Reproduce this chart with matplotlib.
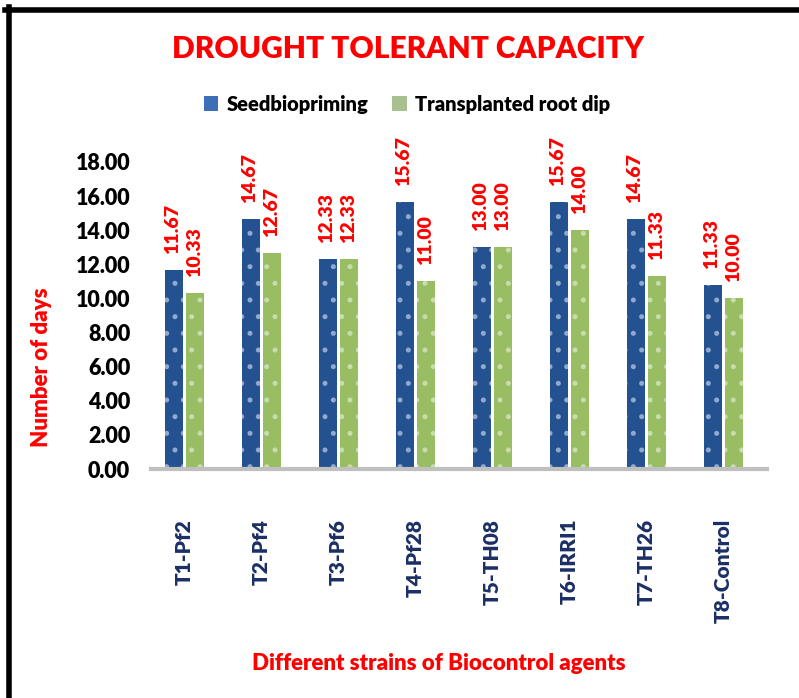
import matplotlib
matplotlib.use("Agg")
import matplotlib.pyplot as plt
from matplotlib.patches import Patch
from matplotlib.lines import Line2D
import numpy as np

categories = ["T1-Pf2", "T2-Pf4", "T3-Pf6", "T4-Pf28", "T5-TH08", "T6-IRRI1", "T7-TH26", "T8-Control"]
seed = [11.67, 14.67, 12.33, 15.67, 13.00, 15.67, 14.67, 10.80]
root = [10.33, 12.67, 12.33, 11.00, 13.00, 14.00, 11.33, 10.00]
seed_labels = ["11.67", "14.67", "12.33", "15.67", "13.00", "15.67", "14.67", "11.33"]
root_labels = ["10.33", "12.67", "12.33", "11.00", "13.00", "14.00", "11.33", "10.00"]
yticks = [0, 2, 4, 6, 8, 10, 12, 14, 16, 18]

plt.rcParams['font.family'] = ['Lato', 'DejaVu Sans']
plt.rcParams['hatch.linewidth'] = 1.2
W = "heavy"

fig = plt.figure(figsize=(7.99, 6.98), dpi=100)
ax = fig.add_axes([151/799, 229/698, 616/799, 307/698])

x = np.arange(len(categories))
w = 0.234
off = 0.137
blue = "#24518f"
green = "#98bd62"
ax.bar(x - off, seed, w, color=blue, edgecolor="#8fa9cf", linewidth=0, hatch='.', label="Seedbiopriming")
ax.bar(x + off, root, w, color=green, edgecolor="#c9dcae", linewidth=0, hatch='.', label="Transplanted root dip")

for xi, v, s in zip(x, seed, seed_labels):
    ax.annotate(s, (xi - off - 0.02, v), xytext=(0, 16), textcoords="offset pixels",
                rotation=90, ha="center", va="bottom", color="red", fontsize=14, fontweight=W)
for xi, v, s in zip(x, root, root_labels):
    ax.annotate(s, (xi + off, v), xytext=(0, 16), textcoords="offset pixels",
                rotation=90, ha="center", va="bottom", color="red", fontsize=14, fontweight=W)

ax.set_xlim(-0.435, 7.565)
ax.set_ylim(0, 18)
ax.set_yticks(yticks)
ax.set_yticklabels([f"{t:.2f}" for t in yticks], fontsize=15.5, fontweight=W, color="black")
ax.set_xticks(x)
ax.set_xticklabels(categories, rotation=90, fontsize=15, fontweight=W, color="#1b2f66", va="top", ha="center")
ax.tick_params(axis="x", length=0, pad=36)
ax.tick_params(axis="y", length=0, pad=15)
for sp in ["top", "right", "left"]:
    ax.spines[sp].set_visible(False)
ax.spines["bottom"].set_color("#bfbfbf")
ax.spines["bottom"].set_linewidth(3)

fig.text(42/799, 1 - 367/698, "Number of days", rotation=90, ha="center", va="center",
         color="red", fontsize=16, fontweight=W)
fig.text(439/799, 1 - 664/698, "Different strains of Biocontrol agents", ha="center", va="center",
         color="red", fontsize=16, fontweight=W)
fig.text(408/799, 1 - 49/698, "DROUGHT TOLERANT CAPACITY", ha="center", va="center",
         color="red", fontsize=21.5, fontweight=W)

handles = [Patch(facecolor="#3c6fb6", edgecolor="none"), Patch(facecolor="#a8c08e", edgecolor="none")]
fig.legend(handles, ["Seedbiopriming", "Transplanted root dip"], loc="center",
           bbox_to_anchor=(407/799, 1 - 104/698), ncol=2, frameon=False,
           prop={"weight": W, "size": 14.5}, handlelength=0.7, handleheight=0.7,
           handletextpad=0.4, columnspacing=1.2)

# outer frame (top and left edges)
fig.add_artist(Line2D([5/799, 1], [1 - 9.5/698, 1 - 9.5/698], color="black", linewidth=4, transform=fig.transFigure))
fig.add_artist(Line2D([8.5/799, 8.5/799], [0, 1 - 7/698], color="black", linewidth=4, transform=fig.transFigure))

fig.savefig("out.png", dpi=100)
